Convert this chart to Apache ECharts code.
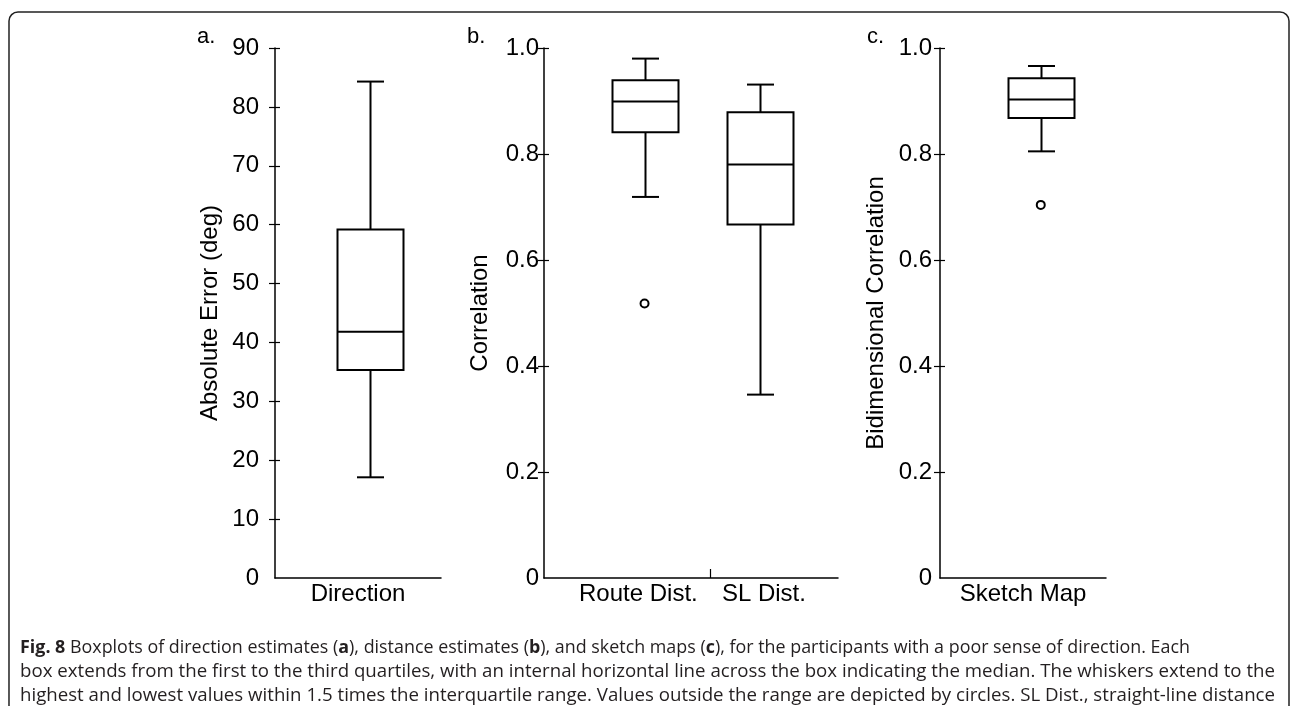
<!DOCTYPE html>
<html><head><meta charset="utf-8">
<script src="https://cdn.jsdelivr.net/npm/echarts@6/dist/echarts.min.js"></script>
<style>html,body{margin:0;padding:0;background:#fff}#c{width:1295px;height:706px}</style>
</head><body><div id="c"></div>
<script>
// ---------------- data ----------------
const directionCategories = ['Direction'];
const distanceCategories = ['Route Dist.', 'SL Dist.'];
const sketchCategories = ['Sketch Map'];
// each box: [lower whisker, Q1, median, Q3, upper whisker]
const directionBoxes = [[17.1, 35.3, 41.8, 59.2, 84.3]];
const distanceBoxes = [[0.719, 0.841, 0.899, 0.939, 0.980], [0.346, 0.667, 0.780, 0.879, 0.931]];
const sketchBoxes = [[0.805, 0.868, 0.903, 0.943, 0.966]];
// outliers: [category index, value]
const directionOutliers = [];
const distanceOutliers = [[0, 0.518]];
const sketchOutliers = [[0, 0.704]];
// y scales
const directionScale = {min: 0, max: 90, interval: 10};
const correlationScale = {min: 0, max: 1, interval: 0.2};
const panelLetters = ['a.', 'b.', 'c.'];
const axisTitles = ['Absolute Error (deg)', 'Correlation', 'Bidimensional Correlation'];
const captionLines = [
  '{b|Fig. 8} Boxplots of direction estimates ({b|a}), distance estimates ({b|b}), and sketch maps ({b|c}), for the participants with a poor sense of direction. Each',
  'box extends from the first to the third quartiles, with an internal horizontal line across the box indicating the median. The whiskers extend to the',
  'highest and lowest values within 1.5 times the interquartile range. Values outside the range are depicted by circles. SL Dist., straight-line distance'
];

// ---------------- layout ----------------
const FONT = '"Liberation Sans", Arial, Helvetica, sans-serif';
const CAP_FONT = '"Open Sans", "Noto Sans", sans-serif';
const INK = '#000';
const gridTop = 48, gridHeight = 530;
const panels = [
  {left: 275, width: 166, cats: directionCategories, boxes: directionBoxes, outliers: directionOutliers,
   scale: directionScale, boxPos: [0.575], labelPos: [0.5], sepTicks: [], labelMargin: 16, nameGap: 53,
   fmt: v => String(Math.round(v)), letterX: 197},
  {left: 544, width: 294, cats: distanceCategories, boxes: distanceBoxes, outliers: distanceOutliers,
   scale: correlationScale, boxPos: [0.342, 0.735], labelPos: [0.321, 0.748], sepTicks: [0.565], labelMargin: 5, nameGap: 52,
   fmt: v => v === 0 ? '0' : v.toFixed(1), letterX: 467},
  {left: 940, width: 166, cats: sketchCategories, boxes: sketchBoxes, outliers: sketchOutliers,
   scale: correlationScale, boxPos: [0.607], labelPos: [0.5], sepTicks: [], labelMargin: 8, nameGap: 52,
   fmt: v => v === 0 ? '0' : v.toFixed(1), letterX: 867}
];
const BOX_W = 66, CAP_W = 27, BOX_LW = 2, AXIS_LW = 1.5;

function tickValues(s) {
  const out = [];
  for (let k = 1; s.min + k * s.interval <= s.max + 1e-9; k++) out.push(+(s.min + k * s.interval).toFixed(6));
  return out;
}

const grid = [], xAxis = [], yAxis = [], series = [];
panels.forEach((p, i) => {
  grid.push({left: p.left, top: gridTop, width: p.width, height: gridHeight, containLabel: false});
  xAxis.push({
    gridIndex: i, type: 'value', min: 0, max: 1,
    axisLine: {show: true, onZero: false, lineStyle: {color: INK, width: AXIS_LW}},
    splitLine: {show: false},
    axisTick: {show: p.sepTicks.length > 0, inside: true, length: 9, customValues: p.sepTicks,
               lineStyle: {color: INK, width: 1.2}},
    axisLabel: {customValues: p.labelPos, margin: 4, fontSize: 24, fontFamily: FONT, color: INK,
      formatter: v => {
        let best = 0;
        p.labelPos.forEach((lp, j) => { if (Math.abs(lp - v) < Math.abs(p.labelPos[best] - v)) best = j; });
        return p.cats[best];
      }}
  });
  // outer axis: line, outward ticks, labels, title
  yAxis.push({
    gridIndex: i, type: 'value', position: 'left', offset: 0,
    min: p.scale.min, max: p.scale.max, interval: p.scale.interval,
    axisLine: {show: true, onZero: false, lineStyle: {color: INK, width: AXIS_LW}},
    axisTick: {show: true, length: 6, customValues: tickValues(p.scale), lineStyle: {color: INK, width: 1.2}},
    axisLabel: {margin: p.labelMargin, fontSize: 24, fontFamily: FONT, color: INK, formatter: p.fmt},
    splitLine: {show: false},
    name: axisTitles[i], nameLocation: 'middle', nameGap: p.nameGap,
    nameTextStyle: {fontSize: 24, fontFamily: FONT, color: INK}
  });
  // inner ticks so that ticks cross the axis line
  yAxis.push({
    gridIndex: i, type: 'value', position: 'left', offset: 0,
    min: p.scale.min, max: p.scale.max, interval: p.scale.interval,
    axisLine: {show: false},
    axisTick: {show: true, inside: true, length: 5, customValues: tickValues(p.scale), lineStyle: {color: INK, width: 1.2}},
    axisLabel: {show: false}, splitLine: {show: false}
  });
  series.push({
    type: 'custom', xAxisIndex: i, yAxisIndex: 2 * i,
    data: p.boxes.map((b, ci) => [ci].concat(b)),
    encode: {x: 0, y: [1, 2, 3, 4, 5]},
    renderItem: (params, api) => {
      const ci = api.value(0);
      const x = p.boxPos[ci];
      const pt = k => api.coord([x, api.value(k)]);
      const lo = pt(1), q1 = pt(2), md = pt(3), q3 = pt(4), hi = pt(5);
      const cx = Math.round(lo[0]) + 0.5;
      const st = {stroke: INK, lineWidth: BOX_LW, fill: null};
      return {type: 'group', children: [
        {type: 'line', shape: {x1: cx, y1: hi[1], x2: cx, y2: q3[1]}, style: st},
        {type: 'line', shape: {x1: cx, y1: q1[1], x2: cx, y2: lo[1]}, style: st},
        {type: 'line', shape: {x1: cx - CAP_W / 2, y1: hi[1], x2: cx + CAP_W / 2, y2: hi[1]}, style: st},
        {type: 'line', shape: {x1: cx - CAP_W / 2, y1: lo[1], x2: cx + CAP_W / 2, y2: lo[1]}, style: st},
        {type: 'rect', shape: {x: cx - BOX_W / 2, y: q3[1], width: BOX_W, height: q1[1] - q3[1]},
         style: {stroke: INK, lineWidth: BOX_LW, fill: '#fff'}},
        {type: 'line', shape: {x1: cx - BOX_W / 2, y1: md[1], x2: cx + BOX_W / 2, y2: md[1]}, style: st}
      ]};
    },
    silent: true, animation: false
  });
  if (p.outliers.length) {
    series.push({
      type: 'scatter', xAxisIndex: i, yAxisIndex: 2 * i,
      data: p.outliers.map(o => [p.boxPos[o[0]], o[1]]),
      symbol: 'circle', symbolSize: 8,
      itemStyle: {color: '#fff', borderColor: INK, borderWidth: 2, opacity: 1},
      silent: true, animation: false
    });
  }
});

// caption measurement so each line spans its width
const mctx = document.createElement('canvas').getContext('2d');
const CAP_SIZE = 18;
function measureRich(line) {
  let w = 0;
  const re = /\{b\|([^}]*)\}/g;
  let last = 0, m;
  while ((m = re.exec(line)) !== null) {
    mctx.font = CAP_SIZE + 'px ' + CAP_FONT; w += mctx.measureText(line.slice(last, m.index)).width;
    mctx.font = 'bold ' + CAP_SIZE + 'px ' + CAP_FONT; w += mctx.measureText(m[1]).width;
    last = re.lastIndex;
  }
  mctx.font = CAP_SIZE + 'px ' + CAP_FONT; w += mctx.measureText(line.slice(last)).width;
  return w;
}
const capTargets = [1170, 1255, 1255];
const capY = [648, 672, 696];
const graphic = [
  {type: 'rect', shape: {x: 9, y: 12, width: 1280, height: 760, r: 9},
   style: {fill: 'none', stroke: '#222', lineWidth: 1.5}, silent: true}
];
panels.forEach((p, i) => {
  graphic.push({type: 'text', x: p.letterX, y: 37,
    style: {text: panelLetters[i], font: '22px ' + FONT, fill: INK, textVerticalAlign: 'middle'}});
});
captionLines.forEach((line, k) => {
  const w = measureRich(line);
  graphic.push({type: 'text', x: 20, y: capY[k], scaleX: capTargets[k] / w,
    style: {text: line, fontSize: CAP_SIZE, fontFamily: CAP_FONT, fill: '#231f20', textVerticalAlign: 'middle',
      rich: {b: {fontWeight: 'bold', fontSize: CAP_SIZE, fontFamily: CAP_FONT, fill: '#231f20'}}}});
});

const chart = echarts.init(document.getElementById('c'), null, {renderer: 'canvas'});
chart.setOption({animation: false, backgroundColor: '#fff', grid, xAxis, yAxis, series, graphic});
</script>
</body></html>
